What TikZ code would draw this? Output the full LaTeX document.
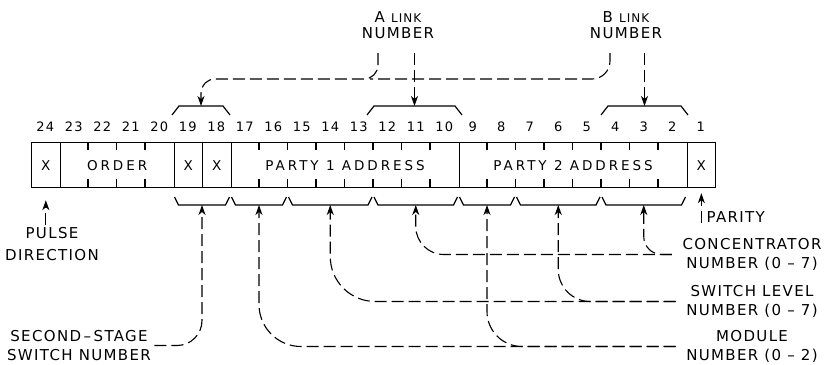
\documentclass[tikz,border=0pt]{standalone}
\usepackage{fontspec}
\newfontfamily\lblfont{DejaVu Sans}[LetterSpace=9]
\newfontfamily\cellfont{DejaVu Sans}[LetterSpace=22]
\newfontfamily\numfont{DejaVu Sans}[LetterSpace=10]
\usetikzlibrary{arrows.meta, positioning}

\newcommand{\bitx}[1]{31+(24-#1)*28.5}

\begin{document}
\begin{tikzpicture}[
	x=1pt, y=-1pt,
	line width=1.2pt,
	cellbox/.style={draw, anchor=north west, minimum height=45pt, inner sep=0pt, font=\cellfont\fontsize{13.5}{15}\selectfont},
	bitnum/.style={inner sep=0pt, font=\numfont\fontsize{13}{15}\selectfont},
	tagtext/.style={align=center, inner xsep=10pt, inner ysep=0pt, font=\lblfont\fontsize{15}{19.5}\selectfont},
	brk/.style={line width=1.2pt},
	link/.style={line width=1.1pt, dash pattern=on 12pt off 5pt, -{Stealth[length=10pt, width=7pt, inset=3pt]}},
	dashline/.style={line width=1.1pt, dash pattern=on 12pt off 5pt}
	]
	\useasboundingbox (0,0) rectangle (827,364);
	
	% --- CAMPOS DO REGISTRO ---
	\node[cellbox, minimum width=28.5pt] (f24) at (31,142) {X};
	\node[cellbox, minimum width=114pt] (order) at (59.5,142) {ORDER};
	\node[cellbox, minimum width=28.5pt] (f19) at (173.5,142) {X};
	\node[cellbox, minimum width=28.5pt] (f18) at (202,142) {X};
	\node[cellbox, minimum width=228pt] (party1) at (230.5,142) {PARTY 1 ADDRESS};
	\node[cellbox, minimum width=228pt] (party2) at (458.5,142) {PARTY 2 ADDRESS};
	\node[cellbox, minimum width=28.5pt] (f1) at (686.5,142) {X};
	
	\foreach \k in {22,21,20,16,15,14,13,12,11,10,8,7,6,5,4,3,2} {
		\draw ({\bitx{\k}},142) -- ++(0,8);
		\draw ({\bitx{\k}},187) -- ++(0,-8);
	}
	
	% --- NUMERAÇÃO DOS BITS ---
	\foreach \k in {1,...,24}
		\node[bitnum] (n\k) at ({\bitx{\k}+14.25},127) {\k};
	
	% --- CHAVES ---
	\foreach \l/\r/\name in {172/230/t1918, 367/462/t1210, 601/688/t0402} {
		\draw[brk] (\l,115) -- (\l+7,106) -- (\r-7,106) -- (\r,115);
		\coordinate (\name) at ({(\l+\r)/2},106);
	}
	\foreach \l/\r/\name in {173.5/230.5/b1918, 230.5/287.5/b1716, 287.5/373/b1513,
		373/458.5/b1210, 458.5/515.5/b0908, 515.5/601/b0705, 601/686.5/b0402} {
		\draw[brk] (\l+1,197) -- (\l+5,205) -- (\r-5,205) -- (\r-1,197);
		\coordinate (\name) at ({(\l+\r)/2},205);
	}
	
	% --- RÓTULOS ---
	\node[tagtext, font=\lblfont\fontsize{15}{16}\selectfont] (alink) at (398,25)
		{A {\fontsize{12}{16}\selectfont LINK}\\NUMBER};
	\node[tagtext, font=\lblfont\fontsize{15}{16}\selectfont] (blink) at (626,25)
		{B {\fontsize{12}{16}\selectfont LINK}\\NUMBER};
	\node[tagtext, inner ysep=2pt, font=\lblfont\fontsize{15}{22}\selectfont] (pulse) at (52,244.5) {PULSE\\DIRECTION};
	\node[tagtext, inner sep=0pt, anchor=west] (parity) at (706,217) {PARITY};
	\node[tagtext] (conc) at (752,254.5) {CONCENTRATOR\\NUMBER (0 – 7)};
	\node[tagtext] (swlevel) at (752,301.5) {SWITCH LEVEL\\NUMBER (0 – 7)};
	\node[tagtext] (module) at (752,346.5) {MODULE\\NUMBER (0 – 2)};
	\node[tagtext, inner xsep=3pt] (second) at (79,345.5) {SECOND\,–\,STAGE\\SWITCH NUMBER};
	
	% --- LIGAÇÕES ---
	\coordinate (a_curve) at (378,53);
	\coordinate (a_drop) at (t1210 |- a_curve);
	\coordinate (b_curve) at (610,53);
	\coordinate (b_drop) at (t0402 |- b_curve);
	\coordinate (ab_join) at (370,79);
	
	\draw[link, rounded corners=14pt] (a_curve) |- ([yshift=27pt]t1918) -- (t1918);
	\draw[dashline, rounded corners=18pt] (b_curve) |- (ab_join);
	\draw[link] (a_drop) -- (t1210);
	\draw[link] (b_drop) -- (t0402);
	
	\draw[link] (pulse.north -| f24.south) -- ([yshift=-12pt]f24.south);
	\draw[link] (parity.south west -| f1.south) -- ([yshift=-5pt]f1.south);
	
	\draw[link, rounded corners=25pt] (second.east) -| (b1918);
	\draw[link, rounded corners=42pt] (module.west) -| (b1716);
	\draw[link, rounded corners=35pt] (module.west) -| (b0908);
	\draw[link, rounded corners=45pt] (swlevel.west) -| (b1513);
	\draw[link, rounded corners=32pt] (swlevel.west) -| (b0705);
	\draw[link, rounded corners=28pt] (conc.west) -| (b1210);
	\draw[link, rounded corners=18pt] (conc.west) -| (b0402);
	
\end{tikzpicture}
\end{document}
